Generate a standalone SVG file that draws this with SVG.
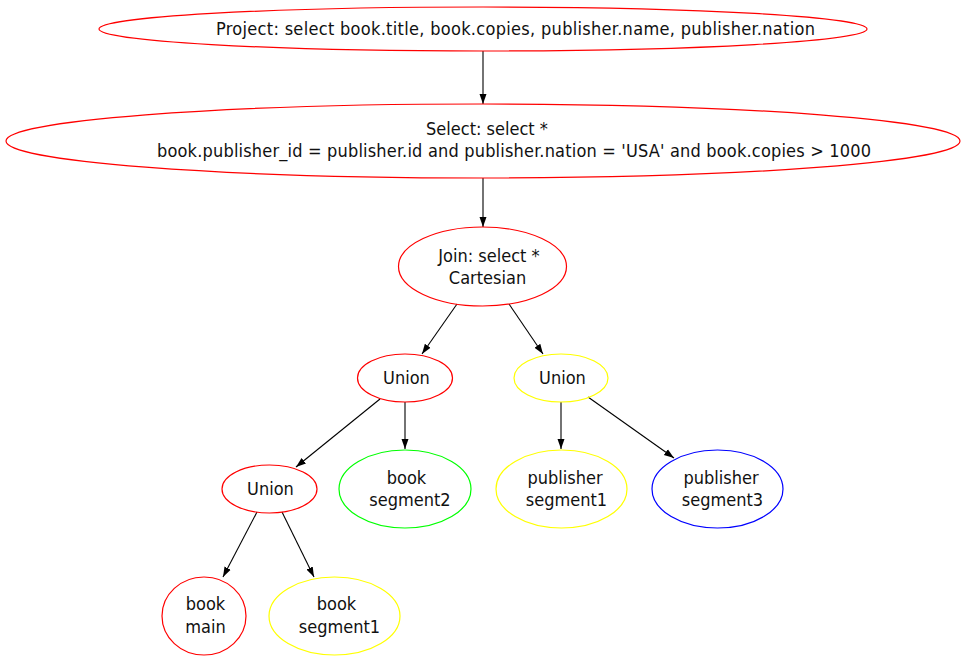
<svg xmlns="http://www.w3.org/2000/svg" width="965" height="660" viewBox="0 0 965 660">
<style>
text{font-family:"DejaVu Sans Condensed","DejaVu Sans",sans-serif;font-stretch:condensed;font-size:18px;fill:#111;text-anchor:middle}
ellipse{fill:none;stroke-width:1.2}
.r{stroke:#ff0000}.y{stroke:#ffff00}.g{stroke:#00ff00}.b{stroke:#0000ff}
#edges line{stroke:#000;stroke-width:1.1;marker-end:url(#ah)}
</style>
<defs>
<marker id="ah" viewBox="0 0 10 10" refX="10" refY="5" markerWidth="10" markerHeight="10" markerUnits="userSpaceOnUse" orient="auto">
<path d="M0,1.5 L10,5 L0,8.5 Z" fill="#000"/>
</marker>
</defs>
<rect width="965" height="660" fill="#fff"/>
<g id="edges">
<line x1="483" y1="51" x2="483" y2="104"/>
<line x1="483" y1="178" x2="483" y2="227"/>
<line x1="457" y1="304" x2="422" y2="354"/>
<line x1="509" y1="304" x2="543" y2="354"/>
<line x1="380" y1="399" x2="296" y2="467"/>
<line x1="405" y1="402" x2="405" y2="449"/>
<line x1="561" y1="402" x2="561" y2="449"/>
<line x1="588" y1="397" x2="674" y2="458"/>
<line x1="257" y1="512" x2="223" y2="577"/>
<line x1="282" y1="512" x2="314" y2="577"/>
</g>
<g id="project"><ellipse class="r" cx="483" cy="29" rx="384" ry="22"/><text x="515.5" y="35" textLength="599" lengthAdjust="spacing">Project: select book.title, book.copies, publisher.name, publisher.nation</text></g>
<g id="select"><ellipse class="r" cx="483" cy="141" rx="477" ry="37"/><text x="487" y="135">Select: select *</text><text x="514" y="157" textLength="714" lengthAdjust="spacing">book.publisher_id = publisher.id and publisher.nation = 'USA' and book.copies &gt; 1000</text></g>
<g id="join"><ellipse class="r" cx="482.5" cy="266.5" rx="84" ry="39.5"/><text x="489" y="262">Join: select *</text><text x="487.5" y="284">Cartesian</text></g>
<g id="union1"><ellipse class="r" cx="405" cy="378" rx="47.5" ry="24"/><text x="406.5" y="384">Union</text></g>
<g id="union2"><ellipse class="y" cx="561" cy="378" rx="47" ry="24"/><text x="562.5" y="384">Union</text></g>
<g id="union3"><ellipse class="r" cx="269.5" cy="489" rx="47.5" ry="24"/><text x="270.5" y="495">Union</text></g>
<g id="book_segment2"><ellipse class="g" cx="405" cy="489" rx="66" ry="39"/><text x="406.5" y="484">book</text><text x="410" y="506">segment2</text></g>
<g id="publisher_segment1"><ellipse class="y" cx="561.5" cy="489" rx="65.5" ry="39"/><text x="565" y="484">publisher</text><text x="566.5" y="506">segment1</text></g>
<g id="publisher_segment3"><ellipse class="b" cx="717.5" cy="489" rx="65.5" ry="39"/><text x="721" y="484">publisher</text><text x="722.5" y="506">segment3</text></g>
<g id="book_main"><ellipse class="r" cx="204" cy="616" rx="42" ry="39"/><text x="205.5" y="610">book</text><text x="205.5" y="633">main</text></g>
<g id="book_segment1"><ellipse class="y" cx="334.5" cy="616" rx="65.5" ry="39"/><text x="336.5" y="610">book</text><text x="339.5" y="633">segment1</text></g>
</svg>
